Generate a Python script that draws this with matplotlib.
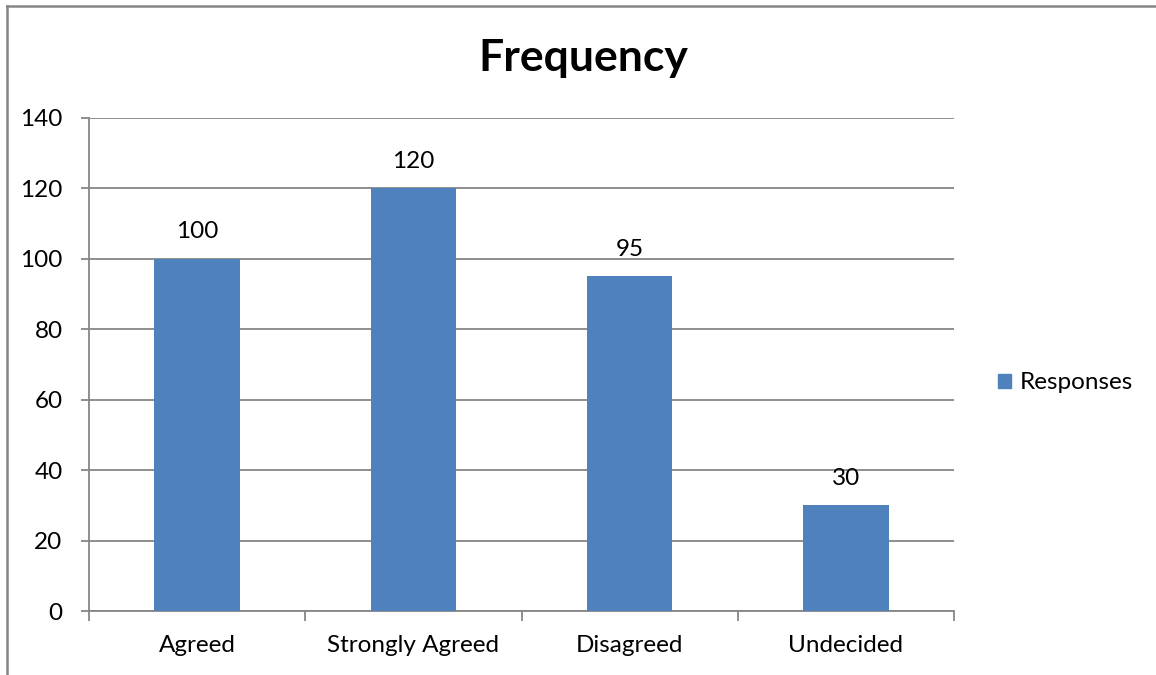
import matplotlib
matplotlib.use("Agg")
import matplotlib.pyplot as plt
from matplotlib.lines import Line2D
from matplotlib.patches import Patch

categories = ["Agreed", "Strongly Agreed", "Disagreed", "Undecided"]
responses = [100, 120, 95, 30]
y_ticks = [0, 20, 40, 60, 80, 100, 120, 140]

BAR = "#4F81BD"
GRID = "#868686"
FS = 17.5
plt.rcParams["font.family"] = ["Lato", "DejaVu Sans"]

W, H = 1156, 675
fig = plt.figure(figsize=(W / 100, H / 100), dpi=100)
ax = fig.add_axes([89 / W, 64 / H, 865 / W, 493 / H])

x = range(len(categories))
ax.bar(x, responses, width=0.395, color=BAR, zorder=3)
for xi, v in zip(x, responses):
    ax.annotate(str(v), (xi, v), xytext=(0, 12), textcoords="offset points",
                ha="center", va="bottom", fontsize=FS)

ax.set_xlim(-0.5, len(categories) - 0.5)
ax.set_ylim(0, 140)
ax.set_yticks(y_ticks)
ax.tick_params(axis="y", length=6, width=1.3, color=GRID, labelsize=FS, pad=13)
ax.grid(axis="y", color=GRID, linewidth=1.3, zorder=0)

# category labels sit between boundary tick marks
ax.set_xticks([i - 0.5 for i in range(len(categories) + 1)])
ax.set_xticklabels([])
ax.set_xticks(list(x), minor=True)
ax.set_xticklabels(categories, minor=True, fontsize=FS)
ax.tick_params(axis="x", which="major", length=7, width=1.3, color=GRID, direction="out")
ax.tick_params(axis="x", which="minor", length=0, pad=17)

for side in ("top", "right"):
    ax.spines[side].set_visible(False)
for side in ("left", "bottom"):
    ax.spines[side].set_color(GRID)
    ax.spines[side].set_linewidth(1.3)

fig.text(583 / W, 1 - 58 / H, "Frequency", ha="center", va="center",
         fontsize=32, fontweight="bold")

fig.legend(handles=[Patch(color=BAR, label="Responses")],
           loc="center left", bbox_to_anchor=(976 / W, 1 - 383 / H),
           frameon=False, fontsize=FS, handlelength=0.55, handleheight=0.55,
           handletextpad=0.37)

# chart border
fig.add_artist(Line2D([7 / W, 7 / W], [0, 1 - 6 / H], color=GRID, lw=1.8))
fig.add_artist(Line2D([7 / W, 1], [1 - 6 / H, 1 - 6 / H], color=GRID, lw=1.8))

fig.savefig("out.png", dpi=100)
